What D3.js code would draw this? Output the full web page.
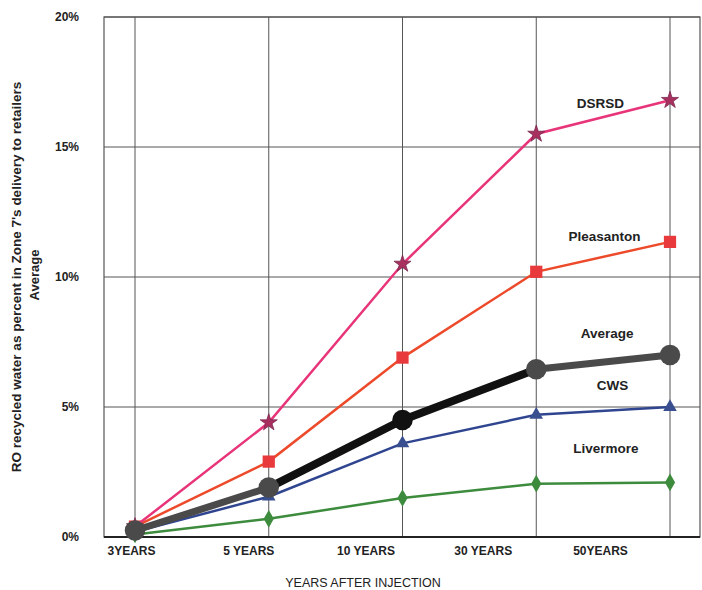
<!DOCTYPE html>
<html>
<head>
<meta charset="utf-8">
<script src="https://cdn.jsdelivr.net/npm/d3@7"></script>
<style>
  body { margin: 0; background: #fff; }
  svg text { font-family: "Liberation Sans", Arial, sans-serif; }
</style>
</head>
<body>
<svg id="chart" width="702" height="590"></svg>
<script>
var years = ['3YEARS', '5 YEARS', '10 YEARS', '30 YEARS', '50YEARS'];
var yTicks = [0, 5, 10, 15, 20];

var dsrsd = [0.4, 4.4, 10.5, 15.5, 16.8];
var pleasanton = [0.4, 2.9, 6.9, 10.2, 11.35];
var average = [0.25, 1.9, 4.5, 6.45, 7.0];
var cws = [0.2, 1.55, 3.6, 4.7, 5.0];
var livermore = [0.1, 0.7, 1.5, 2.05, 2.1];

var series = [
  {name: 'Livermore', values: livermore, color: '#3d8b3d', marker: d3.symbolDiamond, msize: 90, mcolor: '#3d8b3d', width: 2.5},
  {name: 'CWS', values: cws, color: '#2f4590', marker: d3.symbolTriangle, msize: 80, mcolor: '#3a4f8f', width: 2.5},
  {name: 'Pleasanton', values: pleasanton, color: '#ec4a2a', marker: d3.symbolSquare, msize: 150, mcolor: '#e83a3c', width: 2.5},
  {name: 'DSRSD', values: dsrsd, color: '#e8357a', marker: d3.symbolStar, msize: 90, mcolor: '#a8305e', width: 2.5},
  {name: 'Average', values: average, color: '#4a4a4a', marker: d3.symbolCircle, msize: 330, mcolor: '#4a4a4a', width: 7}
];

// label positions next to the lines
var labels = [
  {text: 'DSRSD', i: 3.48, v: 16.5},
  {text: 'Pleasanton', i: 3.51, v: 11.4},
  {text: 'Average', i: 3.53, v: 7.65},
  {text: 'CWS', i: 3.57, v: 5.65},
  {text: 'Livermore', i: 3.52, v: 3.25}
];

var svg = d3.select('#chart');
var margins = {top: 17, bottom: 53, left: 104, right: 2};
var width = 702, height = 590;

var x = d3.scaleLinear().domain([0, 4]).range([135, 670]);
var xLab = d3.scaleLinear().domain([0, 4]).range([131, 600]);
var y = d3.scaleLinear().domain([0, 20]).range([height - margins.bottom, margins.top]);

// grid
svg.append('g')
  .attr('class', 'vgrid')
  .selectAll('line')
  .data(years)
  .enter()
  .append('line')
  .attr('x1', function(d, i) { return x(i); })
  .attr('x2', function(d, i) { return x(i); })
  .attr('y1', y(20))
  .attr('y2', y(0))
  .attr('stroke', '#555')
  .attr('stroke-width', 1);

svg.append('g')
  .attr('class', 'hgrid')
  .selectAll('line')
  .data(yTicks)
  .enter()
  .append('line')
  .attr('x1', margins.left)
  .attr('x2', width - margins.right)
  .attr('y1', function(d) { return y(d); })
  .attr('y2', function(d) { return y(d); })
  .attr('stroke', '#555')
  .attr('stroke-width', 1);

svg.append('rect')
  .attr('x', margins.left)
  .attr('y', y(20))
  .attr('width', width - margins.right - margins.left)
  .attr('height', y(0) - y(20))
  .attr('fill', 'none')
  .attr('stroke', '#555')
  .attr('stroke-width', 1.2);

svg.append('line')
  .attr('x1', margins.left).attr('x2', width - margins.right)
  .attr('y1', y(0)).attr('y2', y(0))
  .attr('stroke', '#222').attr('stroke-width', 2);

// y axis labels
var yAxis = svg.append('g')
  .attr('class', 'yaxis')
  .attr('transform', 'translate(' + 82 + ',0)')
  .call(d3.axisLeft(y).tickValues(yTicks).tickSize(0).tickFormat(function(d) { return d + '%'; }));
yAxis.select('.domain').remove();
yAxis.selectAll('text')
  .attr('font-size', '12px')
  .attr('font-weight', 'bold')
  .attr('fill', '#222')
  .attr('dx', '0');

// x axis labels
var xAxis = svg.append('g')
  .attr('class', 'xaxis')
  .attr('transform', 'translate(0,' + (y(0) + 6) + ')')
  .call(d3.axisBottom(xLab).tickValues([0, 1, 2, 3, 4]).tickSize(0)
    .tickFormat(function(d) { return years[d]; }));
xAxis.select('.domain').remove();
xAxis.selectAll('text')
  .attr('font-size', '12px')
  .attr('font-weight', 'bold')
  .attr('fill', '#222');

// axis titles
svg.append('text')
  .attr('x', 363)
  .attr('y', 587)
  .attr('text-anchor', 'middle')
  .attr('font-size', '12.5px')
  .attr('fill', '#222')
  .text('YEARS AFTER INJECTION');

svg.append('text')
  .attr('transform', 'translate(21,277) rotate(-90)')
  .attr('text-anchor', 'middle')
  .attr('font-size', '13.5px')
  .attr('font-weight', 'bold')
  .attr('fill', '#222')
  .text("RO recycled water as percent in Zone 7's delivery to retailers");

svg.append('text')
  .attr('transform', 'translate(39,275) rotate(-90)')
  .attr('text-anchor', 'middle')
  .attr('font-size', '13px')
  .attr('font-weight', 'bold')
  .attr('fill', '#222')
  .text('Average');

// lines
var line = d3.line()
  .x(function(d, i) { return x(i); })
  .y(function(d) { return y(d); });

series.forEach(function(s) {
  var g = svg.append('g').attr('class', 'series');
  if (s.name === 'Average') {
    // middle stretch of the average line prints darker
    var segs = d3.pairs(s.values.map(function(v, i) { return [i, v]; }));
    g.selectAll('line')
      .data(segs)
      .enter()
      .append('line')
      .attr('x1', function(d) { return x(d[0][0]); })
      .attr('y1', function(d) { return y(d[0][1]); })
      .attr('x2', function(d) { return x(d[1][0]); })
      .attr('y2', function(d) { return y(d[1][1]); })
      .attr('stroke', function(d, i) { return (i === 1 || i === 2) ? '#111' : s.color; })
      .attr('stroke-width', function(d, i) { return (i === 1 || i === 2) ? 8 : s.width; })
      .attr('stroke-linecap', 'round');
  } else {
    g.append('path')
      .datum(s.values)
      .attr('d', line)
      .attr('fill', 'none')
      .attr('stroke', s.color)
      .attr('stroke-width', s.width);
  }
  g.selectAll('path.marker')
    .data(s.values)
    .enter()
    .append('path')
    .attr('class', 'marker')
    .attr('d', d3.symbol().type(s.marker).size(s.msize))
    .attr('transform', function(d, i) { return 'translate(' + x(i) + ',' + y(d) + ')'; })
    .attr('fill', function(d, i) { return (s.name === 'Average' && (i === 2)) ? '#111' : s.mcolor; })
    .attr('stroke', s.name === 'DSRSD' ? '#7a2850' : 'none')
    .attr('stroke-width', 0.8);
});

// series labels
svg.append('g')
  .attr('class', 'labels')
  .selectAll('text')
  .data(labels)
  .enter()
  .append('text')
  .attr('x', function(d) { return x(d.i); })
  .attr('y', function(d) { return y(d.v); })
  .attr('text-anchor', 'middle')
  .attr('font-size', '13.5px')
  .attr('font-weight', 'bold')
  .attr('fill', '#222')
  .text(function(d) { return d.text; });
</script>
</body>
</html>
